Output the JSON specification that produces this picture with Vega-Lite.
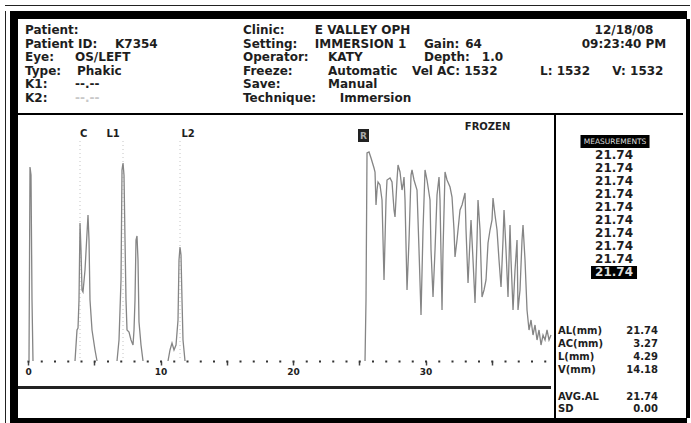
{
"$schema": "https://vega.github.io/schema/vega-lite/v6.json",
"background": "white",
"padding": {"left": 5, "top": 5, "right": 2, "bottom": 0},
"config": {"view": {"stroke": null}, "concat": {"spacing": 0}, "font": "DejaVu Sans"},
"datasets": {
"header": [
{"ln":1,"col":0.84,"t":"Patient:"},{"ln":1,"col":27.07,"t":"Clinic:"},{"ln":1,"col":35.7,"t":"E VALLEY OPH"},
{"ln":2,"col":0.84,"t":"Patient ID:"},{"ln":2,"col":11.67,"t":"K7354"},{"ln":2,"col":27.07,"t":"Setting:"},{"ln":2,"col":35.7,"t":"IMMERSION 1"},{"ln":2,"col":48.84,"t":"Gain:"},{"ln":2,"col":53.8,"t":"64"},
{"ln":3,"col":0.84,"t":"Eye:"},{"ln":3,"col":6.86,"t":"OS/LEFT"},{"ln":3,"col":27.07,"t":"Operator:"},{"ln":3,"col":37.3,"t":"KATY"},{"ln":3,"col":48.84,"t":"Depth:"},{"ln":3,"col":55.8,"t":"1.0"},
{"ln":4,"col":0.84,"t":"Type:"},{"ln":4,"col":7.1,"t":"Phakic"},{"ln":4,"col":27.07,"t":"Freeze:"},{"ln":4,"col":37.3,"t":"Automatic"},{"ln":4,"col":47.4,"t":"Vel AC: 1532"},{"ln":4,"col":62.8,"t":"L: 1532"},{"ln":4,"col":71.5,"t":"V: 1532"},
{"ln":5,"col":0.84,"t":"K1:"},{"ln":5,"col":6.86,"t":"--.--"},{"ln":5,"col":27.07,"t":"Save:"},{"ln":5,"col":37.3,"t":"Manual"},
{"ln":6,"col":0.84,"t":"K2:"},{"ln":6,"col":27.07,"t":"Technique:"},{"ln":6,"col":38.7,"t":"Immersion"}
],
"headerDate": [{"ln":1,"col":72.9,"t":"12/18/08"},{"ln":2,"col":72.9,"t":"09:23:40 PM"}],
"headerFaint": [{"ln":6,"col":6.86,"t":"--.--"}],
"trace": [
{"s":1,"d":0.075,"a":0},{"s":1,"d":0.151,"a":97},{"s":1,"d":0.226,"a":93},{"s":1,"d":0.302,"a":30.5},{"s":1,"d":0.377,"a":0},
{"s":2,"d":3.547,"a":0},{"s":2,"d":3.698,"a":15.5},{"s":2,"d":3.774,"a":16.5},{"s":2,"d":3.849,"a":30.5},{"s":2,"d":3.925,"a":69},{"s":2,"d":4.0,"a":55.5},{"s":2,"d":4.075,"a":35.5},{"s":2,"d":4.151,"a":34.5},{"s":2,"d":4.302,"a":45.5},{"s":2,"d":4.528,"a":73},{"s":2,"d":4.604,"a":60.5},{"s":2,"d":4.679,"a":30.5},{"s":2,"d":4.83,"a":15.5},{"s":2,"d":5.057,"a":5.5},{"s":2,"d":5.208,"a":0},
{"s":3,"d":6.717,"a":0},{"s":3,"d":6.868,"a":10.5},{"s":3,"d":7.019,"a":40.5},{"s":3,"d":7.094,"a":95.5},{"s":3,"d":7.17,"a":99},{"s":3,"d":7.245,"a":93},{"s":3,"d":7.321,"a":60.5},{"s":3,"d":7.396,"a":30.5},{"s":3,"d":7.472,"a":15.5},{"s":3,"d":7.623,"a":14.5},{"s":3,"d":7.774,"a":10.5},{"s":3,"d":7.925,"a":8},{"s":3,"d":8.0,"a":15.5},{"s":3,"d":8.075,"a":30.5},{"s":3,"d":8.151,"a":60.5},{"s":3,"d":8.226,"a":62.5},{"s":3,"d":8.302,"a":50.5},{"s":3,"d":8.377,"a":19.5},{"s":3,"d":8.528,"a":8},{"s":3,"d":8.679,"a":0},
{"s":4,"d":10.566,"a":0},{"s":4,"d":10.717,"a":5.5},{"s":4,"d":10.868,"a":9},{"s":4,"d":11.019,"a":5.5},{"s":4,"d":11.17,"a":8},{"s":4,"d":11.321,"a":20.5},{"s":4,"d":11.396,"a":50.5},{"s":4,"d":11.472,"a":57},{"s":4,"d":11.547,"a":53},{"s":4,"d":11.623,"a":30.5},{"s":4,"d":11.698,"a":10.5},{"s":4,"d":11.849,"a":0},
{"s":5,"d":25.434,"a":0},{"s":5,"d":25.509,"a":30.5},{"s":5,"d":25.585,"a":104},{"s":5,"d":25.736,"a":104.5},{"s":5,"d":25.887,"a":101.5},{"s":5,"d":26.113,"a":96.5},{"s":5,"d":26.189,"a":94.5},{"s":5,"d":26.264,"a":78},{"s":5,"d":26.34,"a":85.5},{"s":5,"d":26.415,"a":89.5},{"s":5,"d":26.566,"a":88},{"s":5,"d":26.717,"a":80.5},{"s":5,"d":26.868,"a":40.5},{"s":5,"d":27.019,"a":80.5},{"s":5,"d":27.094,"a":90.5},{"s":5,"d":27.321,"a":91.5},{"s":5,"d":27.472,"a":89.5},{"s":5,"d":27.623,"a":75.5},{"s":5,"d":27.698,"a":72},{"s":5,"d":27.849,"a":90.5},{"s":5,"d":27.925,"a":98},{"s":5,"d":28.075,"a":94.5},{"s":5,"d":28.226,"a":85.5},{"s":5,"d":28.302,"a":88},{"s":5,"d":28.377,"a":92},{"s":5,"d":28.453,"a":80.5},{"s":5,"d":28.604,"a":35.5},{"s":5,"d":28.755,"a":60.5},{"s":5,"d":28.906,"a":93},{"s":5,"d":28.981,"a":95.5},{"s":5,"d":29.132,"a":90.5},{"s":5,"d":29.358,"a":85.5},{"s":5,"d":29.509,"a":55.5},{"s":5,"d":29.66,"a":23},{"s":5,"d":29.811,"a":65.5},{"s":5,"d":29.962,"a":95.5},{"s":5,"d":30.113,"a":90.5},{"s":5,"d":30.34,"a":80.5},{"s":5,"d":30.415,"a":55.5},{"s":5,"d":30.566,"a":32},{"s":5,"d":30.717,"a":55.5},{"s":5,"d":30.868,"a":83},{"s":5,"d":31.019,"a":92},{"s":5,"d":31.094,"a":80.5},{"s":5,"d":31.245,"a":25.5},{"s":5,"d":31.321,"a":55.5},{"s":5,"d":31.472,"a":94.5},{"s":5,"d":31.623,"a":90.5},{"s":5,"d":31.849,"a":87},{"s":5,"d":32.0,"a":82},{"s":5,"d":32.151,"a":65.5},{"s":5,"d":32.226,"a":52},{"s":5,"d":32.377,"a":60.5},{"s":5,"d":32.604,"a":75.5},{"s":5,"d":32.755,"a":78},{"s":5,"d":32.981,"a":84},{"s":5,"d":33.057,"a":65.5},{"s":5,"d":33.208,"a":39},{"s":5,"d":33.358,"a":60.5},{"s":5,"d":33.434,"a":70.5},{"s":5,"d":33.585,"a":50.5},{"s":5,"d":33.736,"a":29},{"s":5,"d":33.887,"a":60.5},{"s":5,"d":33.962,"a":80.5},{"s":5,"d":34.113,"a":65.5},{"s":5,"d":34.264,"a":32},{"s":5,"d":34.415,"a":35.5},{"s":5,"d":34.566,"a":40.5},{"s":5,"d":34.717,"a":59},{"s":5,"d":34.868,"a":65.5},{"s":5,"d":35.019,"a":70.5},{"s":5,"d":35.094,"a":81.5},{"s":5,"d":35.245,"a":73},{"s":5,"d":35.396,"a":65.5},{"s":5,"d":35.547,"a":50.5},{"s":5,"d":35.698,"a":37},{"s":5,"d":35.849,"a":60.5},{"s":5,"d":35.925,"a":75.5},{"s":5,"d":36.075,"a":55.5},{"s":5,"d":36.226,"a":32},{"s":5,"d":36.302,"a":50.5},{"s":5,"d":36.377,"a":68},{"s":5,"d":36.453,"a":50.5},{"s":5,"d":36.604,"a":25.5},{"s":5,"d":36.755,"a":45.5},{"s":5,"d":36.906,"a":60.5},{"s":5,"d":36.981,"a":25.5},{"s":5,"d":37.132,"a":35.5},{"s":5,"d":37.283,"a":60.5},{"s":5,"d":37.358,"a":68},{"s":5,"d":37.509,"a":50.5},{"s":5,"d":37.66,"a":25.5},{"s":5,"d":37.811,"a":15.5},{"s":5,"d":37.962,"a":20.5},{"s":5,"d":38.113,"a":13},{"s":5,"d":38.264,"a":18},{"s":5,"d":38.415,"a":10.5},{"s":5,"d":38.566,"a":15.5},{"s":5,"d":38.717,"a":8},{"s":5,"d":38.868,"a":13},{"s":5,"d":39.019,"a":10.5},{"s":5,"d":39.17,"a":15.5},{"s":5,"d":39.321,"a":10.5},{"s":5,"d":39.472,"a":13}
],
"gates": [{"d":3.925,"a":110},{"d":7.17,"a":110},{"d":11.472,"a":110}],
"plotLabels": [{"d":4.2,"a":113.5,"t":"C"},{"d":6.42,"a":113.5,"t":"L1"},{"d":12.08,"a":113.5,"t":"L2"},{"d":34.68,"a":117.25,"t":"FROZEN"}],
"retinaGate": [{"d":25.32,"a":112.75,"t":"R"}],
"rpList": [{"ln":0,"t":"MEASUREMENTS"},{"ln":1,"t":"21.74"},{"ln":2,"t":"21.74"},{"ln":3,"t":"21.74"},{"ln":4,"t":"21.74"},{"ln":5,"t":"21.74"},{"ln":6,"t":"21.74"},{"ln":7,"t":"21.74"},{"ln":8,"t":"21.74"},{"ln":9,"t":"21.74"},{"ln":10,"t":"21.74"}],
"rpStats": [{"ln":14.45,"lab":"AL(mm)","val":"21.74"},{"ln":15.45,"lab":"AC(mm)","val":"3.27"},{"ln":16.45,"lab":"L(mm)","val":"4.29"},{"ln":17.45,"lab":"V(mm)","val":"14.18"},{"ln":19.5,"lab":"AVG.AL","val":"21.74"},{"ln":20.4,"lab":"SD","val":"0.00"}]
},
"spacing": 0,
"vconcat": [
{"width":685,"height":1,"data":{"values":[{}]},"mark":{"type":"point","size":0,"opacity":0},"encoding":{},"view":{"fill":"#222","stroke":null}},
{"width":685,"height":5,"data":{"values":[{}]},"mark":{"type":"point","size":0,"opacity":0},"encoding":{},"view":{"fill":"white","stroke":null}},
{"spacing":0,"hconcat":[
{"width":1,"height":412,"data":{"values":[{}]},"mark":{"type":"point","size":0,"opacity":0},"encoding":{},"view":{"fill":"#222","stroke":null}},
{"width":4,"height":412,"data":{"values":[{}]},"mark":{"type":"point","size":0,"opacity":0},"encoding":{},"view":{"fill":"white","stroke":null}},
{"spacing":0,"vconcat":[
{"width":677,"height":8,"data":{"values":[{}]},"mark":{"type":"point","size":0,"opacity":0},"encoding":{},"view":{"fill":"black","stroke":null}},
{"spacing":0,"hconcat":[
 {"width":8,"height":399,"data":{"values":[{}]},"mark":{"type":"point","size":0,"opacity":0},"encoding":{},"view":{"fill":"black","stroke":null}},
 {"spacing":0,"vconcat":[
  {"width":665,"height":94,
   "encoding":{"x":{"field":"col","type":"quantitative","scale":{"domain":[0,80],"nice":false,"zero":false},"axis":null},
               "y":{"field":"ln","type":"quantitative","scale":{"domain":[0.191,7.103],"reverse":true,"nice":false,"zero":false},"axis":null},
               "text":{"field":"t"}},
   "layer":[
    {"data":{"name":"header"},"mark":{"type":"text","align":"left","baseline":"middle","font":"DejaVu Sans","fontWeight":"bold","fontSize":12,"color":"#1e1e1e"}},
    {"data":{"name":"headerDate"},"mark":{"type":"text","align":"center","baseline":"middle","font":"DejaVu Sans","fontWeight":"bold","fontSize":12,"color":"#1e1e1e"}},
    {"data":{"name":"headerFaint"},"mark":{"type":"text","align":"left","baseline":"middle","font":"DejaVu Sans","fontWeight":"bold","fontSize":12,"color":"#c8c8c8"}}
   ]},
  {"width":665,"height":2,"data":{"values":[{}]},"mark":{"type":"point","size":0,"opacity":0},"encoding":{},"view":{"fill":"black","stroke":null}},
  {"spacing":0,"hconcat":[
   {"spacing":0,"vconcat":[
    {"width":533,"height":271,
     "encoding":{"x":{"field":"d","type":"quantitative","scale":{"domain":[-0.755,39.47],"nice":false,"zero":false},
                     "axis":{"orient":"bottom","offset":-25,"values":[0,5,10,15,20,25,30,35],"labelExpr":"datum.value % 10 === 0 ? datum.label : ''","domainDash":[2,11.25],"domainDashOffset":4.25,"domainWidth":2,"domainColor":"#333","tickColor":"#444","tickSize":4,"tickWidth":1.5,"labelFont":"DejaVu Sans","labelFontWeight":"bold","labelFontSize":9,"labelColor":"#222","labelPadding":2,"grid":false,"title":null,"labelFlush":false}},
                 "y":{"field":"a","type":"quantitative","scale":{"domain":[-12.5,123],"nice":false,"zero":false},"axis":null}},
     "layer":[
      {"data":{"name":"gates"},"mark":{"type":"rule","color":"#c4c4c4","strokeDash":[1,3],"strokeWidth":1},"encoding":{"y2":{"datum":0}}},
      {"data":{"name":"trace"},"mark":{"type":"line","color":"#858585","strokeWidth":1.3},"encoding":{"detail":{"field":"s","type":"nominal"}}},
      {"data":{"name":"plotLabels"},"mark":{"type":"text","align":"center","baseline":"middle","font":"DejaVu Sans","fontWeight":"bold","fontSize":10,"color":"#1e1e1e"},"encoding":{"text":{"field":"t"}}},
      {"data":{"name":"retinaGate"},"mark":{"type":"point","shape":"M-0.846,-1H0.846V1H-0.846Z","filled":true,"color":"#222","size":169,"opacity":1}},
      {"data":{"name":"retinaGate"},"mark":{"type":"text","align":"center","baseline":"middle","font":"DejaVu Sans","fontWeight":"bold","fontSize":9,"color":"#aaaaaa"},"encoding":{"text":{"field":"t"}}}
     ]},
    {"width":533,"height":3,"data":{"values":[{}]},"mark":{"type":"point","size":0,"opacity":0},"encoding":{},"view":{"fill":"#222","stroke":null}},
    {"width":533,"height":29,"data":{"values":[{}]},"mark":{"type":"point","size":0,"opacity":0},"encoding":{},"view":{"fill":"white","stroke":null}}
   ]},
   {"width":2,"height":303,"data":{"values":[{}]},"mark":{"type":"point","size":0,"opacity":0},"encoding":{},"view":{"fill":"black","stroke":null}},
   {"width":130,"height":303,
    "encoding":{"y":{"field":"ln","type":"quantitative","scale":{"domain":[-2.023,21.107],"reverse":true,"nice":false,"zero":false},"axis":null}},
    "layer":[
     {"data":{"name":"rpList"},"transform":[{"filter":"datum.ln == 0"}],"mark":{"type":"point","shape":"M-5.31,-1H5.31V1H-5.31Z","filled":true,"color":"#000","size":169,"opacity":1},
      "encoding":{"x":{"datum":7.1,"type":"quantitative","scale":{"domain":[0,15.64],"nice":false,"zero":false},"axis":null}}},
     {"data":{"name":"rpList"},"transform":[{"filter":"datum.ln == 10"}],"mark":{"type":"point","shape":"M-3.54,-1H3.54V1H-3.54Z","filled":true,"color":"#000","size":169,"opacity":1},
      "encoding":{"x":{"datum":6.98,"type":"quantitative","scale":{"domain":[0,15.64],"nice":false,"zero":false},"axis":null}}},
     {"data":{"name":"rpList"},"transform":[{"filter":"datum.ln == 0"}],"mark":{"type":"text","align":"center","baseline":"middle","font":"DejaVu Sans","fontSize":7.5,"color":"#dddddd"},
      "encoding":{"x":{"datum":7.1,"type":"quantitative","scale":{"domain":[0,15.64],"nice":false,"zero":false},"axis":null},"text":{"field":"t"}}},
     {"data":{"name":"rpList"},"transform":[{"filter":"datum.ln > 0 && datum.ln < 10"}],"mark":{"type":"text","align":"center","baseline":"middle","font":"DejaVu Sans","fontWeight":"bold","fontSize":12,"color":"#1e1e1e"},
      "encoding":{"x":{"datum":6.98,"type":"quantitative","scale":{"domain":[0,15.64],"nice":false,"zero":false},"axis":null},"text":{"field":"t"}}},
     {"data":{"name":"rpList"},"transform":[{"filter":"datum.ln == 10"}],"mark":{"type":"text","align":"center","baseline":"middle","font":"DejaVu Sans","fontWeight":"bold","fontSize":12,"color":"#dddddd"},
      "encoding":{"x":{"datum":6.98,"type":"quantitative","scale":{"domain":[0,15.64],"nice":false,"zero":false},"axis":null},"text":{"field":"t"}}},
     {"data":{"name":"rpStats"},"mark":{"type":"text","align":"left","baseline":"middle","font":"DejaVu Sans","fontWeight":"bold","fontSize":10,"color":"#1e1e1e"},
      "encoding":{"x":{"datum":0.24,"type":"quantitative","scale":{"domain":[0,15.64],"nice":false,"zero":false},"axis":null},"text":{"field":"lab"}}},
     {"data":{"name":"rpStats"},"mark":{"type":"text","align":"right","baseline":"middle","font":"DejaVu Sans","fontWeight":"bold","fontSize":10,"color":"#1e1e1e"},
      "encoding":{"x":{"datum":12.27,"type":"quantitative","scale":{"domain":[0,15.64],"nice":false,"zero":false},"axis":null},"text":{"field":"val"}}}
    ]}
  ]}
 ]},
 {"width":4,"height":399,"data":{"values":[{}]},"mark":{"type":"point","size":0,"opacity":0},"encoding":{},"view":{"fill":"black","stroke":null}}
]},
{"width":677,"height":5,"data":{"values":[{}]},"mark":{"type":"point","size":0,"opacity":0},"encoding":{},"view":{"fill":"black","stroke":null}}
]},
{"width":1,"height":412,"data":{"values":[{}]},"mark":{"type":"point","size":0,"opacity":0},"encoding":{},"view":{"fill":"white","stroke":null}},
{"width":1,"height":412,"data":{"values":[{}]},"mark":{"type":"point","size":0,"opacity":0},"encoding":{},"view":{"fill":"#222","stroke":null}}
]}
]
}
